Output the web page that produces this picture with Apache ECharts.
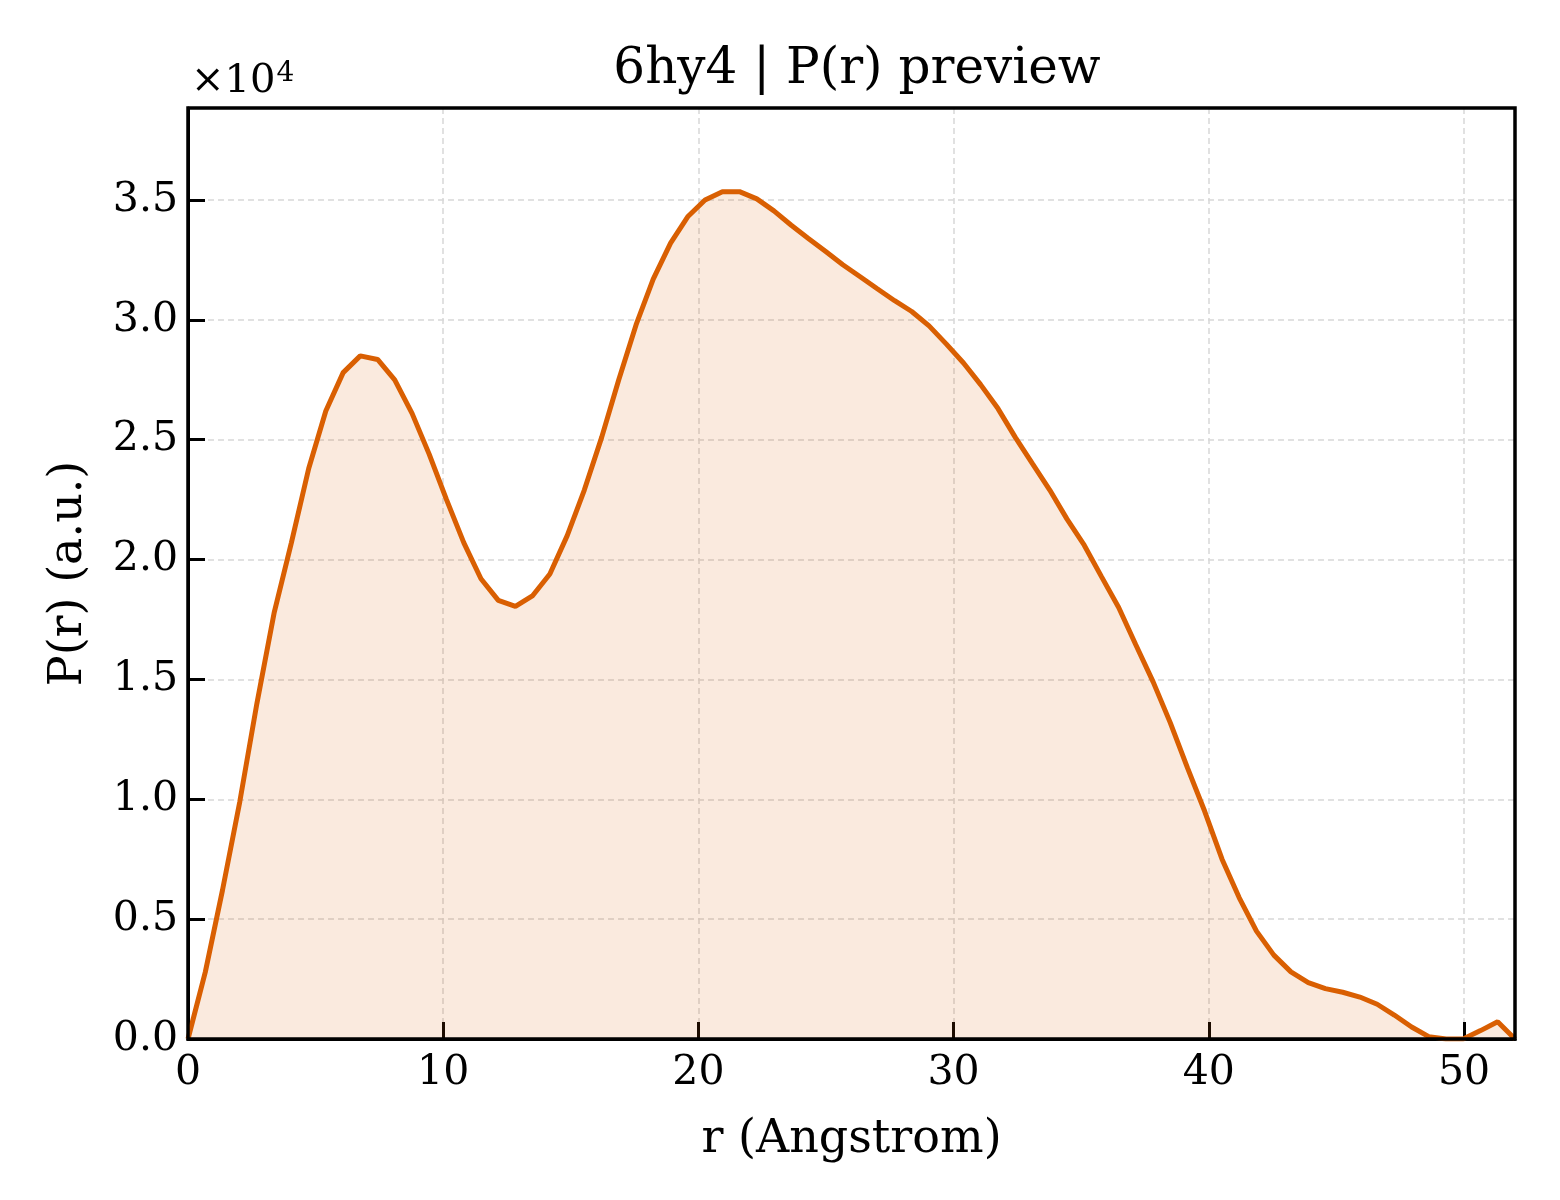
<!DOCTYPE html>
<html>
<head>
<meta charset="utf-8">
<title>6hy4 | P(r) preview</title>
<script src="https://cdn.jsdelivr.net/npm/echarts@6/dist/echarts.min.js"></script>
<style>
  html, body { margin: 0; padding: 0; background: #fff; }
  #chart { width: 1560px; height: 1200px; }
</style>
</head>
<body>
<div id="chart"></div>
<script>
// r (Angstrom) sampling of the curve
var rValues = [
  0.00, 0.68, 1.35, 2.03, 2.70, 3.38, 4.05, 4.73, 5.40, 6.08,
  6.75, 7.43, 8.10, 8.78, 9.45, 10.13, 10.81, 11.48, 12.16, 12.83,
  13.51, 14.18, 14.86, 15.53, 16.21, 16.88, 17.56, 18.23, 18.91, 19.58,
  20.26, 20.94, 21.61, 22.29, 22.96, 23.64, 24.31, 24.99, 25.66, 26.34,
  27.01, 27.69, 28.36, 29.04, 29.71, 30.39, 31.06, 31.74, 32.42, 33.09,
  33.77, 34.44, 35.12, 35.79, 36.47, 37.14, 37.82, 38.49, 39.17, 39.84,
  40.52, 41.19, 41.87, 42.55, 43.22, 43.90, 44.57, 45.25, 45.92, 46.60,
  47.27, 47.95, 48.62, 49.30, 49.97, 50.65, 51.32, 52.00
];
// P(r) in a.u.
var prValues = [
  0, 2800, 6200, 9900, 14000, 17800, 20700, 23800, 26200, 27800,
  28500, 28350, 27500, 26100, 24400, 22500, 20700, 19200, 18300, 18050,
  18500, 19400, 21000, 22900, 25100, 27500, 29800, 31700, 33200, 34300,
  35000, 35350, 35350, 35050, 34550, 33950, 33400, 32850, 32300, 31800,
  31300, 30800, 30350, 29750, 29000, 28200, 27300, 26300, 25100, 24000,
  22900, 21700, 20600, 19300, 18000, 16450, 14900, 13200, 11300, 9500,
  7500, 5900, 4500, 3500, 2800, 2350, 2100, 1950, 1750, 1450,
  1000, 500, 100, 0, 0, 350, 720, 0
];
var xTicks = [0, 10, 20, 30, 40, 50];
var yTicks = [0, 5000, 10000, 15000, 20000, 25000, 30000, 35000];

var points = rValues.map(function (r, i) { return [r, prValues[i]]; });

var chart = echarts.init(document.getElementById('chart'));
var serif = 'DejaVu Serif';
var gridLeft = 188, gridTop = 108, gridWidth = 1327, gridHeight = 931;
var gridStyle = { color: '#d8d8d8', width: 1.5, type: [6, 4] };
var tickStyle = { color: '#000', width: 3 };

var option = {
  backgroundColor: '#ffffff',
  animation: false,
  title: {
    text: '6hy4 | P(r) preview',
    left: 852,
    textAlign: 'center',
    top: 40,
    textStyle: { fontFamily: serif, fontSize: 50, fontWeight: 'normal', color: '#000' }
  },
  grid: { left: gridLeft, top: gridTop, width: gridWidth, height: gridHeight, show: false },
  xAxis: {
    type: 'value',
    min: 0,
    max: 52,
    interval: 10,
    name: 'r (Angstrom)',
    nameLocation: 'middle',
    nameGap: 78,
    nameTextStyle: { fontFamily: serif, fontSize: 46, color: '#000' },
    axisLine: { show: true, lineStyle: { color: '#000', width: 3 } },
    axisTick: { show: true, inside: true, length: 17, customValues: xTicks, lineStyle: tickStyle },
    axisLabel: {
      fontFamily: serif, fontSize: 41, color: '#000', margin: 14,
      customValues: xTicks,
      formatter: function (v) { return String(v); }
    },
    splitLine: { show: true, lineStyle: gridStyle }
  },
  yAxis: {
    type: 'value',
    min: 0,
    max: 38840,
    interval: 5000,
    name: 'P(r) (a.u.)',
    nameLocation: 'middle',
    nameGap: 96,
    nameTextStyle: { fontFamily: serif, fontSize: 46, color: '#000' },
    axisLine: { show: true, lineStyle: { color: '#000', width: 3 } },
    axisTick: { show: true, inside: true, length: 17, customValues: yTicks, lineStyle: tickStyle },
    axisLabel: {
      fontFamily: serif, fontSize: 41, color: '#000', margin: 10,
      customValues: yTicks,
      formatter: function (v) { return (v / 10000).toFixed(1); }
    },
    splitLine: { show: true, lineStyle: gridStyle }
  },
  series: [{
    type: 'line',
    data: points,
    showSymbol: false,
    smooth: false,
    clip: true,
    lineStyle: { color: '#d95f02', width: 5 },
    areaStyle: { color: '#d95f02', opacity: 0.13 },
    z: 3
  }],
  graphic: [
    {
      // frame above the series, like matplotlib spines
      type: 'rect',
      z: 100,
      shape: { x: gridLeft, y: gridTop, width: gridWidth, height: gridHeight },
      style: { fill: 'none', stroke: '#000', lineWidth: 3.5 }
    },
    {
      type: 'text',
      z: 100,
      left: 191,
      top: 60,
      style: {
        text: '{b|×10}{s|4}',
        rich: {
          b: { fontFamily: serif, fontSize: 40, fill: '#000', verticalAlign: 'bottom' },
          s: { fontFamily: serif, fontSize: 28, fill: '#000', verticalAlign: 'top', padding: [0, 0, 14, 1] }
        }
      }
    }
  ]
};
chart.setOption(option);
</script>
</body>
</html>
